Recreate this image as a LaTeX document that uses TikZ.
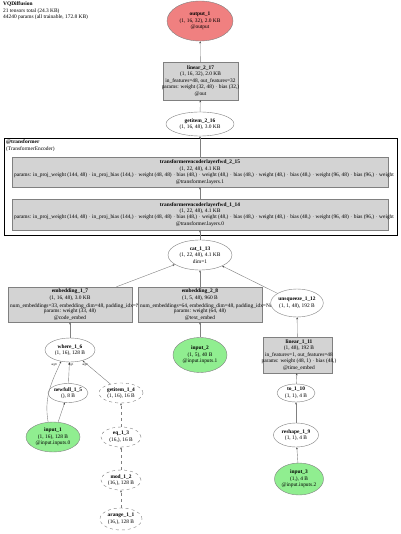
\documentclass[tikz,border=0pt]{standalone}
\usepackage{fontspec}
\setmainfont{Liberation Serif}
\usetikzlibrary{shapes.geometric,arrows.meta}
\definecolor{outred}{HTML}{F08080}
\definecolor{ingreen}{HTML}{90EE90}
\definecolor{boxgray}{HTML}{D3D3D3}
\definecolor{linegray}{HTML}{808080}
\tikzset{
  every node/.style={font=\fontsize{5.4}{6.5}\selectfont, inner sep=0pt, align=center},
  ell/.style={ellipse, draw=linegray, fill=white, line width=0.4pt},
  dell/.style={ell, dashed},
  redell/.style={ell, fill=outred},
  greenell/.style={ell, fill=ingreen},
  gbox/.style={rectangle, draw=linegray, fill=boxgray, line width=0.4pt},
  edge/.style={draw=linegray, line width=0.4pt, -{Stealth[length=2.2pt,width=1.8pt,color=black!70]}},
  dedge/.style={edge, dashed},
  elab/.style={font=\fontsize{3}{3.5}\selectfont},
}
\begin{document}
\begin{tikzpicture}[x=1pt,y=-1pt]
\useasboundingbox[fill=white] (0,0) rectangle (400,534);
% title
\node[anchor=north west, align=left] (title) at (3,2) {\textbf{VQDiffusion}\\21 tensors total (24.3 KB)\\44240 params (all trainable, 172.8 KB)};
% cluster
\node[draw=black, line width=1.4pt, minimum width=393, minimum height=97, anchor=north west] (cluster) at (4,138) {};
\node[anchor=north west, align=left] (clabel) at (6,139.5) {\textbf{@transformer}\\(TransformerEncoder)};
% top
\node[redell, minimum width=66, minimum height=40] (out) at (200,21) {\textbf{output\_1}\\(1, 16, 32), 2.0 KB\\@output};
\node[gbox, minimum width=75, minimum height=38] (lin2) at (200.5,81) {};
\node (lin2t) at (200.5,81) {\textbf{linear\_2\_17}\\(1, 16, 32), 2.0 KB\\in\_features=48, out\_features=32\\params: weight (32, 48) $\cdot$ bias (32,)\\@out};
\node[ell, minimum width=68, minimum height=24] (get2) at (200,124) {\textbf{getitem\_2\_16}\\(1, 16, 48), 3.0 KB};
% transformer layers
\node[gbox, minimum width=376, minimum height=30] (tf2) at (200,172) {};
\node (tf2t) at (200,172) {\textbf{transformerencoderlayerfwd\_2\_15}\\(1, 22, 48), 4.1 KB\\\hspace*{366pt}\\@transformer.layers.1};
\node[anchor=west] (tf2p) at (14,175.2) {params: in\_proj\_weight (144, 48) $\cdot$ in\_proj\_bias (144,) $\cdot$ weight (48, 48) $\cdot$ bias (48,) $\cdot$ weight (48,) $\cdot$ bias (48,) $\cdot$ weight (48,) $\cdot$ bias (48,) $\cdot$ weight (96, 48) $\cdot$ bias (96,) $\cdot$ weight};
\node[gbox, minimum width=376, minimum height=31] (tf1) at (200,214.5) {};
\node (tf1t) at (200,214.5) {\textbf{transformerencoderlayerfwd\_1\_14}\\(1, 22, 48), 4.1 KB\\\hspace*{366pt}\\@transformer.layers.0};
\node[anchor=west] (tf1p) at (14,217.7) {params: in\_proj\_weight (144, 48) $\cdot$ in\_proj\_bias (144,) $\cdot$ weight (48, 48) $\cdot$ bias (48,) $\cdot$ weight (48,) $\cdot$ bias (48,) $\cdot$ weight (48,) $\cdot$ bias (48,) $\cdot$ weight (96, 48) $\cdot$ bias (96,) $\cdot$ weight};
% cat
\node[ell, minimum width=64, minimum height=30] (cat) at (200,255) {\textbf{cat\_1\_13}\\(1, 22, 48), 4.1 KB\\dim=1};
% embeddings
\node[gbox, minimum width=124, minimum height=35] (emb1) at (70,304.5) {};
\node[anchor=north] (emb1t) at (70,289) {\textbf{embedding\_1\_7}\\(1, 16, 48), 3.0 KB};
\node[anchor=west] (emb1m) at (10,305.8) {num\_embeddings=33, embedding\_dim=48, padding\_idx=None};
\node[anchor=north] (emb1b) at (70,309) {params: weight (33, 48)\\@code\_embed};
\node[gbox, minimum width=124, minimum height=35] (emb2) at (200,304.5) {};
\node[anchor=north] (emb2t) at (200,289) {\textbf{embedding\_2\_8}\\(1, 5, 48), 960 B};
\node[anchor=west] (emb2m) at (140,305.8) {num\_embeddings=64, embedding\_dim=48, padding\_idx=None};
\node[anchor=north] (emb2b) at (200,309) {params: weight (64, 48)\\@text\_embed};
\node[ell, minimum width=46, minimum height=28] (unsq) at (297,303) {\textbf{unsqueeze\_1\_12}\\(1, 1, 48), 192 B};
\node[gbox, minimum width=69, minimum height=36] (lin1) at (297.5,355) {};
\node (lin1t) at (299,355) {\textbf{linear\_1\_11}\\(1, 48), 192 B\\in\_features=1, out\_features=48\\params: weight (48, 1) $\cdot$ bias (48,)\\@time\_embed};
\node[greenell, minimum width=54, minimum height=35] (in2) at (200,355) {\textbf{input\_2}\\(1, 5), 40 B\\@input.inputs.1};
% left branch
\node[ell, minimum width=50, minimum height=24] (where) at (70,350) {\textbf{where\_1\_6}\\(1, 16), 128 B};
\node[ell, minimum width=40, minimum height=19] (newf) at (68,393) {\textbf{newfull\_1\_5}\\(), 8 B};
\node[dell, minimum width=44, minimum height=20] (get1) at (121,393) {\textbf{getitem\_1\_4}\\(1, 16), 16 B};
\node[greenell, minimum width=54, minimum height=30] (in1) at (53,437) {\textbf{input\_1}\\(1, 16), 128 B\\@input.inputs.0};
\node[dell, minimum width=40, minimum height=20] (eq) at (121,437) {\textbf{eq\_1\_3}\\(16,), 16 B};
\node[dell, minimum width=40, minimum height=20] (mod) at (121,480) {\textbf{mod\_1\_2}\\(16,), 128 B};
\node[dell, minimum width=42, minimum height=22] (ar) at (121,519) {\textbf{arange\_1\_1}\\(16,), 128 B};
% right branch
\node[ell, minimum width=38, minimum height=18] (to) at (296,393) {\textbf{to\_1\_10}\\(1, 1), 4 B};
\node[ell, minimum width=45, minimum height=24] (resh) at (296,435) {\textbf{reshape\_1\_9}\\(1, 1), 4 B};
\node[greenell, minimum width=46, minimum height=32] (in3) at (299,479) {\textbf{input\_3}\\(1,), 4 B\\@input.inputs.2};
% edges
\draw[edge] (lin2) -- (out);
\draw[edge] (get2) -- (lin2);
\draw[edge] (tf2) -- (get2);
\draw[edge] (tf1) -- (tf2);
\draw[edge] (cat) -- (tf1);
\draw[edge] (emb1) -- (cat);
\draw[edge] (emb2) -- (cat);
\draw[edge] (unsq) -- (cat);
\draw[edge] (in2) -- (emb2);
\draw[edge] (lin1) -- (unsq);
\draw[edge] (to) -- (lin1);
\draw[edge] (resh) -- (to);
\draw[edge] (in3) -- (resh);
\draw[edge] (where) -- (emb1);
\draw[edge] (in1.108) to[out=100,in=245] (where.232);
\draw[edge] (in1) -- (newf);
\draw[edge] (newf) -- (where);
\draw[edge] (get1) -- (where);
\draw[dedge] (eq) -- (get1);
\draw[dedge] (mod) -- (eq);
\draw[dedge] (ar) -- (mod);
\node[elab] (l0) at (54,364.5) {arg0};
\node[elab] (l1) at (71,364.5) {arg1};
\node[elab] (l2) at (85,364.5) {arg2};
\end{tikzpicture}
\end{document}
